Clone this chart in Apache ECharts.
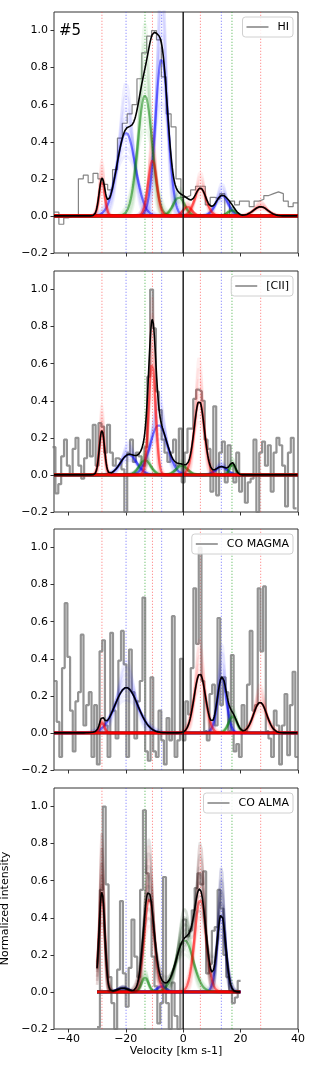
<!DOCTYPE html>
<html><head><meta charset="utf-8">
<script src="https://cdn.jsdelivr.net/npm/echarts@6/dist/echarts.min.js"></script>
<style>html,body{margin:0;padding:0;background:#fff}#c{width:314px;height:1067px}</style>
</head><body><div id="c"></div>
<script>
// ---------- DATA ----------
const xMin = -45, xMax = 40, yMin = -0.2, yMax = 1.1;
const yTicks = [-0.2, 0, 0.2, 0.4, 0.6, 0.8, 1.0];
const xTicks = [-40, -20, 0, 20, 40];
const panelNames = ['HI', '[CII]', 'CO MAGMA', 'CO ALMA'];
const sourceLabel = '#5';
const xTitle = 'Velocity [km s-1]';
const yTitle = 'Normalized intensity';

// component reference velocities (dotted lines) and their family
const markerVel  = [-28.3, -19.9, -13.3, -10.7, -7.5, 6.0, 13.3, 17.0, 27.0];
const markerKind = ['r', 'b', 'g', 'r', 'b', 'r', 'b', 'g', 'r'];

// HI spectrum (channel start, channel width, values)
const hiStart = -45, hiWidth = 1.7;
const hiValues = [0.02,-0.045,-0.01,0.0,0.0,0.2,0.22,0.18,0.23,0.2,0.17,0.14,0.25,0.42,0.5,0.55,0.6,0.74,0.88,0.97,
  1.0,0.95,0.75,0.55,0.48,0.2,0.1,0.11,0.14,0.16,0.16,0.06,0.1,0.09,0.12,0.0,0.08,0.06,0.08,0.08,
  0.05,0.08,0.09,0.11,0.12,0.13,0.12,0.08,0.05,0.07];
// [CII] spectrum
const ciiStart = -45.5, ciiWidth = 1.0;
const ciiValues = [0.15,-0.1,-0.05,0.1,0.19,0.05,0.0,0.14,0.2,0.05,-0.02,0.09,0.19,0.1,0.27,0.05,0.28,0.26,0.12,0.27,
  0.12,0.05,0.09,0.08,0.03,-0.2,0.12,0.19,0.07,0.12,0.1,0.05,0.15,0.53,1.0,0.79,0.45,0.35,0.19,0.12,
  0.07,0.12,0.19,0.05,0.25,-0.04,0.12,0.25,0.25,0.41,0.46,0.45,0.4,0.19,0.14,-0.09,0.37,-0.11,0.12,0.18,
  -0.04,0.16,0.05,-0.04,0.12,-0.09,0.0,-0.15,-0.04,-0.02,0.19,-0.2,0.12,0.18,0.05,0.16,-0.09,0.12,0.2,0.16,
  0.05,-0.17,0.12,0.2,-0.18];
// CO MAGMA spectrum
const magmaStart = -45, magmaWidth = 0.934;
const magmaValues = [0.28,0.06,-0.13,0.35,0.70,0.41,0.12,-0.10,0.17,0.22,0.53,0.04,0.15,0.22,-0.13,0.15,-0.17,0.44,0.50,0.04,
  -0.13,0.54,0.12,-0.03,0.39,0.55,0.37,-0.13,0.45,0.22,-0.03,0.17,0.28,0.73,-0.10,-0.15,0.30,-0.10,-0.13,0.12,
  -0.04,-0.17,0.08,-0.04,0.63,-0.13,-0.04,0.40,-0.04,0.17,0.10,0.35,0.78,0.48,1.00,0.28,0.01,-0.04,0.21,0.26,
  0.04,0.62,0.15,0.30,0.22,0.01,0.42,-0.10,-0.06,-0.13,0.15,0.01,0.26,0.55,0.12,0.15,0.78,0.44,0.79,0.01,
  -0.03,-0.13,0.12,0.04,-0.17,0.04,0.21,-0.12,0.15,0.33,-0.13];
// CO ALMA spectrum
const almaStart = -30, almaWidth = 1.0;
const almaValues = [-0.19,0.55,1.0,0.58,0.08,-0.06,-0.2,0.12,0.49,0.1,
  -0.08,0.13,0.39,0.19,0.08,0.55,0.98,0.64,0.49,0.19,
  0.03,-0.17,-0.06,0.62,-0.06,-0.2,0.05,-0.13,-0.2,0.26,
  0.39,0.3,0.33,0.44,0.56,0.64,0.58,0.65,0.1,0.15,
  0.33,0.35,0.55,0.45,0.2,0.08,0.0,-0.06,-0.03,0.06];

// Gaussian fit components per line (centre, amplitude, sigma, family)
const hiCompCenter = [-28.3,-19.9,-13.3,-10.7,-7.5,-1.5,1.5,6.0,13.5,17.0,27.0];
const hiCompAmp    = [0.19,0.45,0.65,0.3,0.85,0.1,0.05,0.15,0.11,0.03,0.05];
const hiCompSigma  = [1.0,3.2,2.5,1.5,2.2,2.0,1.5,2.0,2.2,1.5,2.5];
const hiCompKind   = ['r','b','g','r','b','g','r','r','b','g','r'];
const hiFitRange   = [-45, 40];

const ciiCompCenter = [-28.3,-19.0,-13.3,-10.8,-8.5,-0.5,5.6,13.3,17.2];
const ciiCompAmp    = [0.24,0.11,0.08,0.6,0.27,0.05,0.4,0.045,0.06];
const ciiCompSigma  = [0.9,2.8,2.0,1.2,3.0,2.0,1.8,2.0,1.0];
const ciiCompKind   = ['r','b','g','r','b','g','r','b','g'];
const ciiFitRange   = [-45, 40];

const magmaCompCenter = [-28.3,-19.8,5.8,13.5,17.3,26.8];
const magmaCompAmp    = [0.06,0.245,0.32,0.3,0.09,0.165];
const magmaCompSigma  = [0.8,4.0,2.0,1.6,1.5,2.3];
const magmaCompKind   = ['r','b','r','b','g','r'];
const magmaFitRange   = [-45, 40];

const almaCompCenter = [-28.3,-21.0,-13.3,-11.8,-7.5,0.5,6.0,13.3];
const almaCompAmp    = [0.54,0.02,0.08,0.5,0.03,0.28,0.5,0.42];
const almaCompSigma  = [1.0,2.0,1.2,1.8,1.5,3.0,2.0,1.5];
const almaCompKind   = ['r','b','g','r','b','g','r','b'];
const almaFitRange   = [-30, 20];

// posterior spread shown around each component (amplitude / width factors)
const envAmp = [1.6, 1.45, 1.3, 1.18, 1.08, 0.92, 0.82, 0.72];
const envSig = [0.68, 0.75, 0.82, 0.9, 0.96, 1.06, 1.16, 1.28];

// ---------- LAYOUT / STYLE ----------
const gridLeft = 54, gridWidth = 244, gridHeight = 241;
const gridTops = [12, 271, 529, 788];
const FONT = 'DejaVu Sans';
const famRGB = {r:'255,0,0', b:'0,0,255', g:'0,128,0'};
const markerRGBA = {r:'rgba(255,60,60,0.55)', b:'rgba(60,60,255,0.55)', g:'rgba(0,150,0,0.55)'};

const panels = [
  {name:panelNames[0], start:hiStart, width:hiWidth, vals:hiValues, cc:hiCompCenter, ca:hiCompAmp, cs:hiCompSigma, ck:hiCompKind, range:hiFitRange, histW:1.2, histC:'rgba(110,110,110,0.85)', fitEnv:false},
  {name:panelNames[1], start:ciiStart, width:ciiWidth, vals:ciiValues, cc:ciiCompCenter, ca:ciiCompAmp, cs:ciiCompSigma, ck:ciiCompKind, range:ciiFitRange, histW:2.2, histC:'rgba(120,120,120,0.8)', fitEnv:false},
  {name:panelNames[2], start:magmaStart, width:magmaWidth, vals:magmaValues, cc:magmaCompCenter, ca:magmaCompAmp, cs:magmaCompSigma, ck:magmaCompKind, range:magmaFitRange, histW:2.2, histC:'rgba(120,120,120,0.8)', fitEnv:false},
  {name:panelNames[3], start:almaStart, width:almaWidth, vals:almaValues, cc:almaCompCenter, ca:almaCompAmp, cs:almaCompSigma, ck:almaCompKind, range:almaFitRange, histW:2.2, histC:'rgba(120,120,120,0.8)', fitEnv:true}
];

function gauss(x, c, a, s){ return a*Math.exp(-(x-c)*(x-c)/(2*s*s)); }
function stepData(start, width, vals){
  const d = vals.map((v,i)=>[start+i*width, v]);
  d.push([start+vals.length*width, vals[vals.length-1]]);
  return d;
}
function xsFor(range){ const a=[]; for(let x=range[0]; x<=range[1]+1e-9; x+=0.2) a.push(+x.toFixed(2)); return a; }
const fmtY = v => (v < 0 ? '\u2212' + Math.abs(v).toFixed(1) : v.toFixed(1));
const fmtX = v => (v < 0 ? '\u2212' + Math.abs(v) : '' + v);

const series = [];
panels.forEach((P,p)=>{
  const base = {type:'line', xAxisIndex:p, yAxisIndex:p, symbol:'none', silent:true, animation:false};
  markerVel.forEach((v,i)=>series.push(Object.assign({}, base, {
    data:[[v,yMin],[v,yMax]], z:1,
    lineStyle:{color:markerRGBA[markerKind[i]], width:1, type:[1.3,1.7]}
  })));
  series.push(Object.assign({}, base, {
    name:P.name, step:'end', data:stepData(P.start,P.width,P.vals), z:2, color:'#808080',
    lineStyle:{color:P.histC, width:P.histW}
  }));
  const xs = xsFor(P.range);
  ['b','g','r'].forEach(kind=>{
    P.ck.forEach((k,j)=>{
      if(k!==kind) return;
      envAmp.forEach((fa,m)=>{
        series.push(Object.assign({}, base, {
          data: xs.map(x=>[x, gauss(x,P.cc[j],P.ca[j]*fa,P.cs[j]*envSig[m])]), z:3,
          lineStyle:{color:'rgba('+famRGB[k]+',0.06)', width:3}
        }));
      });
      series.push(Object.assign({}, base, {
        data: xs.map(x=>[x, gauss(x,P.cc[j],P.ca[j],P.cs[j])]), z:3,
        lineStyle:{color:'rgba('+famRGB[k]+',0.5)', width:2.2}
      }));
    });
  });
  if(P.fitEnv){
    envAmp.forEach((fa,m)=>{
      series.push(Object.assign({}, base, {
        data: xs.map(x=>[x, P.cc.reduce((s,c,j)=>s+gauss(x,c,P.ca[j]*fa,P.cs[j]*envSig[m]),0)]), z:4,
        lineStyle:{color:'rgba(0,0,0,0.1)', width:2.5}
      }));
    });
  }
  series.push(Object.assign({}, base, {
    data: xs.map(x=>[x, P.cc.reduce((s,c,j)=>s+gauss(x,c,P.ca[j],P.cs[j]),0)]), z:5,
    lineStyle:{color:'#000', width:1.6}
  }));
  series.push(Object.assign({}, base, {
    data:[[0,yMin],[0,yMax]], z:6, lineStyle:{color:'#111', width:1.4}
  }));
});

const option = {
  animation:false,
  backgroundColor:'#fff',
  textStyle:{fontFamily:FONT},
  grid: panels.map((P,p)=>({left:gridLeft, width:gridWidth, top:gridTops[p], height:gridHeight,
    containLabel:false, outerBoundsMode:'none',
    show:true, borderColor:'#333', borderWidth:1, backgroundColor:'transparent'})),
  xAxis: panels.map((P,p)=>({
    gridIndex:p, type:'value', min:xMin, max:xMax,
    axisLine:{show:false, onZero:false},
    splitLine:{show:false},
    axisTick:{show:true, length:3.5, lineStyle:{color:'#333', width:1}, customValues:xTicks},
    axisLabel:{show:p===3, customValues:xTicks, formatter:fmtX, fontSize:11, color:'#000', margin:5, fontFamily:FONT},
    name: p===3 ? xTitle : '', nameLocation:'middle', nameGap:17,
    nameTextStyle:{fontSize:11, color:'#000', fontFamily:FONT}
  })),
  yAxis: panels.map((P,p)=>({
    gridIndex:p, type:'value', min:yMin, max:yMax,
    axisLine:{show:false, onZero:false},
    splitLine:{show:false},
    axisTick:{show:true, length:3.5, lineStyle:{color:'#333', width:1}, customValues:yTicks},
    axisLabel:{customValues:yTicks, formatter:fmtY, fontSize:11, color:'#000', margin:6, fontFamily:FONT},
    name: p===3 ? yTitle : '', nameLocation:'middle', nameGap:34,
    nameTextStyle:{fontSize:11, color:'#000', fontFamily:FONT}
  })),
  legend: panels.map((P,p)=>({
    data:[P.name], right:21, top:gridTops[p]+5, selectedMode:false,
    icon:'rect', itemWidth:22, itemHeight:1.5,
    backgroundColor:'rgba(255,255,255,0.85)', borderColor:'#d0d0d0', borderWidth:1, borderRadius:3,
    padding:[3,4,3,4],
    textStyle:{fontSize:11, color:'#000', fontFamily:FONT, padding:[0,0,0,4], lineHeight:14}
  })),
  graphic:[{type:'text', left:59, top:24, style:{text:sourceLabel, fontSize:15, fill:'#000', fontFamily:FONT}}],
  series: series
};
const chart = echarts.init(document.getElementById('c'), null, {renderer:'canvas'});
chart.setOption(option);
</script>
</body></html>
